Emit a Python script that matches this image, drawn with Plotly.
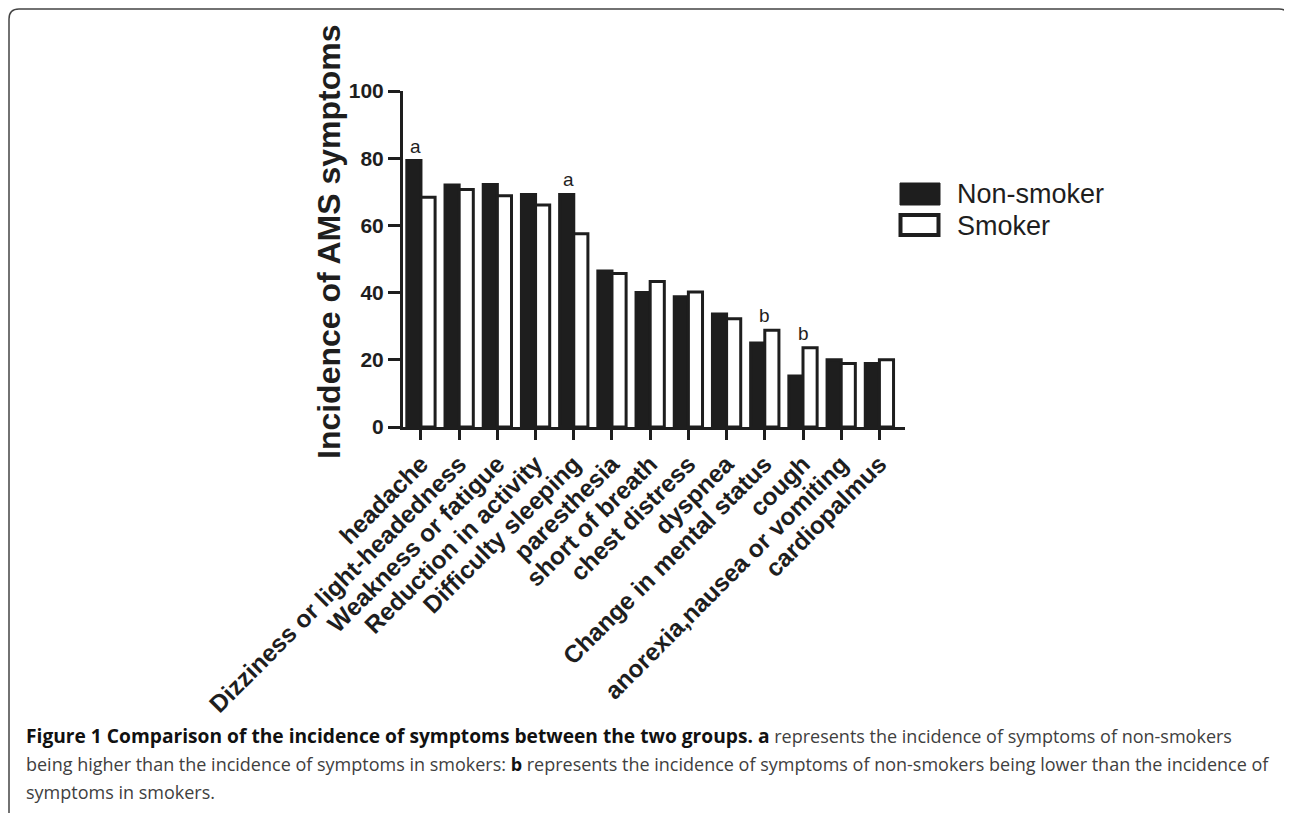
import plotly.graph_objects as go

# the page places the figure 8 px from the top-left corner of the window
OFF = 8
W, H = 1292 - OFF, 813 - OFF

categories = ["headache", "Dizziness or light-headedness", "Weakness or fatigue",
              "Reduction in activity", "Difficulty sleeping", "paresthesia",
              "short of breath", "chest distress", "dyspnea",
              "Change in mental status", "cough", "anorexia,nausea or vomiting",
              "cardiopalmus"]
non_smoker = [79.3, 72.0, 72.2, 69.2, 69.2, 46.4, 40.0, 38.8, 33.6, 25.0, 15.2, 20.0, 18.9]
smoker = [68.4, 70.7, 68.8, 66.1, 57.5, 45.7, 43.3, 40.2, 32.2, 28.8, 23.6, 18.9, 20.0]
y_ticks = [0, 20, 40, 60, 80, 100]

# significance marks
sig_idx = [0, 4, 9, 10]
sig_letters = ["a", "a", "b", "b"]

series_names = ["Non-smoker", "Smoker"]
y_title = "Incidence of AMS symptoms"
caption_1_bold = "Figure 1 Comparison of the incidence of symptoms between the two groups. a"
caption_1_rest = " represents the incidence of symptoms of non-smokers"
caption_2_a = "being higher than the incidence of symptoms in smokers: "
caption_2_b = "b"
caption_2_c = " represents the incidence of symptoms of non-smokers being lower than the incidence of"
caption_3 = "symptoms in smokers."

INK = "#1e1e1e"
FONT = "Liberation Sans, Arial, sans-serif"
CAP_FONT = "Open Sans, Noto Sans, sans-serif"


def px(x):
    return (x - OFF) / W


def py(y):
    return 1 - (y - OFF) / H


fig = go.Figure()
fig.add_trace(go.Bar(x=categories, y=non_smoker, name=series_names[0],
                     marker=dict(color=INK, line=dict(color=INK, width=3))))
fig.add_trace(go.Bar(x=categories, y=smoker, name=series_names[1],
                     marker=dict(color="white", line=dict(color=INK, width=3))))

annotations = []
for i, letter in zip(sig_idx, sig_letters):
    top = max(non_smoker[i], smoker[i])
    annotations.append(dict(x=categories[i], y=top, xref="x", yref="y", text=letter,
                            showarrow=False, yanchor="bottom", yshift=2,
                            xshift=-5 if letter == "a" else 0,
                            font=dict(family=FONT, size=19, color=INK)))

# y axis title
annotations.append(dict(x=px(329), y=py(242), xref="paper", yref="paper", text=y_title,
                        textangle=-90, showarrow=False, xanchor="center", yanchor="middle",
                        font=dict(family=FONT, size=32, color=INK, weight="bold")))

# legend text
annotations.append(dict(x=px(955), y=py(194), xref="paper", yref="paper", text=series_names[0],
                        showarrow=False, xanchor="left", yanchor="middle",
                        font=dict(family=FONT, size=27, color=INK)))
annotations.append(dict(x=px(955), y=py(226), xref="paper", yref="paper", text=series_names[1],
                        showarrow=False, xanchor="left", yanchor="middle",
                        font=dict(family=FONT, size=27, color=INK)))

# caption
cap_gray = "#404040"
annotations.append(dict(x=px(24), y=py(735), xref="paper", yref="paper",
                        text=(f"<b><span style='font-size:19.2px'>{caption_1_bold}</span></b>"
                              f"<span style='color:{cap_gray}'>{caption_1_rest}</span>"),
                        showarrow=False, xanchor="left", yanchor="middle", align="left",
                        font=dict(family=CAP_FONT, size=18, color="#111111")))
annotations.append(dict(x=px(24), y=py(764), xref="paper", yref="paper",
                        text=(f"<span style='color:{cap_gray}'>{caption_2_a}</span><b>{caption_2_b}</b>"
                              f"<span style='color:{cap_gray}'>{caption_2_c}</span>"),
                        showarrow=False, xanchor="left", yanchor="middle", align="left",
                        font=dict(family=CAP_FONT, size=18, color="#111111")))
annotations.append(dict(x=px(24), y=py(792), xref="paper", yref="paper",
                        text=caption_3,
                        showarrow=False, xanchor="left", yanchor="middle", align="left",
                        font=dict(family=CAP_FONT, size=18, color=cap_gray)))

# shapes: legend boxes and outer rounded frame
rx, ry = 10 / W, 10 / H
x0, x1, y0, y1 = px(9), px(1289), py(9), py(840)
frame = (f"M {x0},{y1} L {x0},{y0 - ry} Q {x0},{y0} {x0 + rx},{y0} "
         f"L {x1 - rx},{y0} Q {x1},{y0} {x1},{y0 - ry} L {x1},{y1}")
shapes = [
    dict(type="rect", xref="paper", yref="paper", x0=px(900), x1=px(940), y0=py(183), y1=py(205),
         fillcolor=INK, line=dict(color=INK, width=1)),
    dict(type="rect", xref="paper", yref="paper", x0=px(900.5), x1=px(938.5), y0=py(215), y1=py(235),
         fillcolor="white", line=dict(color=INK, width=4)),
    dict(type="path", xref="paper", yref="paper", path=frame, line=dict(color="#444444", width=1.5)),
]

fig.update_layout(
    template="none",
    width=W, height=H, autosize=False,
    margin=dict(l=0, r=0, t=0, b=0, pad=0, autoexpand=False),
    paper_bgcolor="white", plot_bgcolor="white",
    barmode="group", bargap=0.26, bargroupgap=0,
    showlegend=False,
    annotations=annotations,
    shapes=shapes,
    xaxis=dict(domain=[px(403), px(905)], range=[-0.47, 12.67], automargin=False,
               showline=True, linewidth=3, linecolor=INK,
               ticks="outside", ticklen=10, tickwidth=3, tickcolor=INK,
               tickangle=-45, showgrid=False, zeroline=False,
               tickfont=dict(family=FONT, size=24.5, color=INK, weight="bold")),
    yaxis=dict(domain=[py(427), py(91)], range=[0, 100], tickvals=y_ticks, automargin=False,
               showline=True, linewidth=3, linecolor=INK,
               ticks="outside", ticklen=12, tickwidth=3, tickcolor=INK,
               showgrid=False, zeroline=False,
               tickfont=dict(family=FONT, size=21, color=INK, weight="bold")),
)

fig.write_html("out.html")
